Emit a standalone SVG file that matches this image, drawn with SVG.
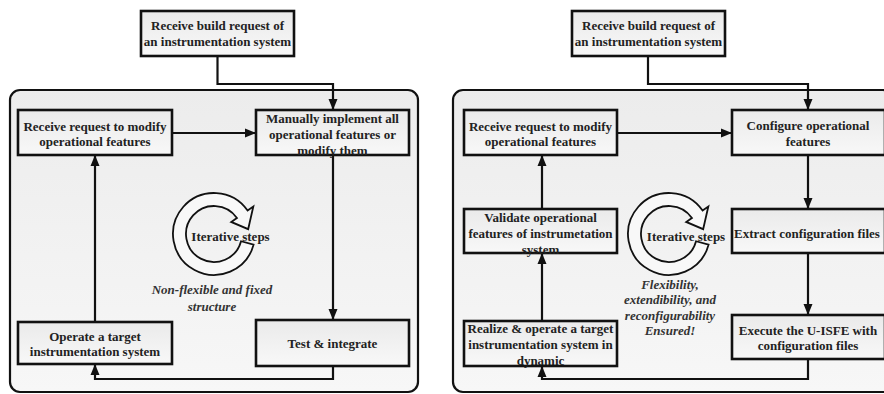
<svg xmlns="http://www.w3.org/2000/svg" width="884" height="394" viewBox="0 0 884 394">
<defs>
<linearGradient id="gCont" x1="0" y1="0" x2="0" y2="1"><stop offset="0" stop-color="#ececec"/><stop offset="1" stop-color="#f7f7f7"/></linearGradient>
<linearGradient id="gBox" x1="0" y1="0" x2="0" y2="1"><stop offset="0" stop-color="#eaeaea"/><stop offset="1" stop-color="#f8f8f8"/></linearGradient>
<marker id="ah" markerUnits="userSpaceOnUse" markerWidth="12" markerHeight="12" viewBox="0 0 12 12" refX="11" refY="6" orient="auto"><path d="M0,1.5 L11,6 L0,10.5 Z" fill="#111"/></marker>
<style>
.cont{fill:url(#gCont);stroke:#111;stroke-width:2.2}
.box{fill:url(#gBox);stroke:#111;stroke-width:2.6}
.t{font-family:"Liberation Serif","Times New Roman",serif;font-weight:bold;font-size:13px;fill:#222;text-anchor:middle}
.it{font-family:"Liberation Serif","Times New Roman",serif;font-weight:bold;font-style:italic;font-size:13px;fill:#333;text-anchor:middle}
.c{fill:none;stroke:#111;stroke-width:2.2}
.cyc{fill:#f8f8f8;stroke:#111;stroke-width:1.8}
</style>
</defs>
<rect width="884" height="394" fill="#fff"/>
<g id="containers">
<rect class="cont" x="10" y="90" width="408" height="302" rx="10"/>
<rect class="cont" x="453" y="90" width="440" height="302" rx="10"/>
</g>
<g id="connectors">
<path class="c" d="M217.5,56 V84 H333 V110" marker-end="url(#ah)"/>
<path class="c" d="M172,133 H256" marker-end="url(#ah)"/>
<path class="c" d="M333,155 V320" marker-end="url(#ah)"/>
<path class="c" d="M333,366 V379 H95 V364" marker-end="url(#ah)"/>
<path class="c" d="M95,322 V155" marker-end="url(#ah)"/>
<path class="c" d="M648,56 V84 H808 V110" marker-end="url(#ah)"/>
<path class="c" d="M617,133 H732" marker-end="url(#ah)"/>
<path class="c" d="M808,155 V209" marker-end="url(#ah)"/>
<path class="c" d="M808,253 V315" marker-end="url(#ah)"/>
<path class="c" d="M808,359 V379 H542 V366" marker-end="url(#ah)"/>
<path class="c" d="M542,321 V253" marker-end="url(#ah)"/>
<path class="c" d="M542,209 V155" marker-end="url(#ah)"/>
</g>
<g id="L-build">
<rect class="box" x="141" y="11" width="153" height="45"/>
<text class="t" x="217.5" y="30">Receive build request of</text>
<text class="t" x="217.5" y="46">an instrumentation system</text>
</g>
<g id="L-receive">
<rect class="box" x="18" y="110" width="154" height="45"/>
<text class="t" x="95" y="131">Receive request to modify</text>
<text class="t" x="95" y="146">operational features</text>
</g>
<g id="L-manual">
<rect class="box" x="256" y="110" width="153" height="45"/>
<text class="t" x="332.5" y="123">Manually implement all</text>
<text class="t" x="332.5" y="139">operational features or</text>
<text class="t" x="332.5" y="155">modify them</text>
</g>
<g id="L-test">
<rect class="box" x="256" y="320" width="153" height="46"/>
<text class="t" x="332.5" y="348">Test &amp; integrate</text>
</g>
<g id="L-operate">
<rect class="box" x="18" y="322" width="154" height="42"/>
<text class="t" x="95" y="340.5">Operate a target</text>
<text class="t" x="95" y="356">instrumentation system</text>
</g>
<g id="L-cycle">
<path class="cyc" d="M253.60,244.61 A41,41 0 1 1 247.59,210.48 L253.32,206.47 L248.16,229.20 L231.20,221.95 L236.94,217.94 A28,28 0 1 0 241.05,241.25 Z"/>
<text class="t" x="230.5" y="241">Iterative steps</text>
<text class="it" x="212" y="294">Non-flexible and fixed</text>
<text class="it" x="212" y="311">structure</text>
</g>
<g id="R-build">
<rect class="box" x="572" y="11" width="153" height="45"/>
<text class="t" x="648.5" y="30">Receive build request of</text>
<text class="t" x="648.5" y="46">an instrumentation system</text>
</g>
<g id="R-receive">
<rect class="box" x="464" y="110" width="153" height="45"/>
<text class="t" x="540.5" y="131">Receive request to modify</text>
<text class="t" x="540.5" y="146">operational features</text>
</g>
<g id="R-configure">
<rect class="box" x="732" y="110" width="153" height="45"/>
<text class="t" x="808" y="129.5">Configure operational</text>
<text class="t" x="808" y="146">features</text>
</g>
<g id="R-validate">
<rect class="box" x="464" y="209" width="153" height="44"/>
<text class="t" x="540.5" y="222">Validate operational</text>
<text class="t" x="540.5" y="238">features of instrumetation</text>
<text class="t" x="540.5" y="254">system</text>
</g>
<g id="R-extract">
<rect class="box" x="732" y="209" width="153" height="44"/>
<text class="t" x="807" y="238">Extract configuration files</text>
</g>
<g id="R-execute">
<rect class="box" x="732" y="315" width="153" height="44"/>
<text class="t" x="808" y="334.5">Execute the U-ISFE with</text>
<text class="t" x="808" y="349.5">configuration files</text>
</g>
<g id="R-realize">
<rect class="box" x="464" y="321" width="153" height="45"/>
<text class="t" x="540.5" y="333">Realize &amp; operate a target</text>
<text class="t" x="540.5" y="349">instrumentation system in</text>
<text class="t" x="540.5" y="365">dynamic</text>
</g>
<g id="R-cycle">
<path class="cyc" d="M708.60,244.61 A41,41 0 1 1 702.59,210.48 L708.32,206.47 L703.16,229.20 L686.20,221.95 L691.94,217.94 A28,28 0 1 0 696.05,241.25 Z"/>
<text class="t" x="686" y="241">Iterative steps</text>
<text class="it" x="670" y="289">Flexibility,</text>
<text class="it" x="670" y="304">extendibility, and</text>
<text class="it" x="670" y="320">reconfigurability</text>
<text class="it" x="670" y="335">Ensured!</text>
</g>
</svg>
